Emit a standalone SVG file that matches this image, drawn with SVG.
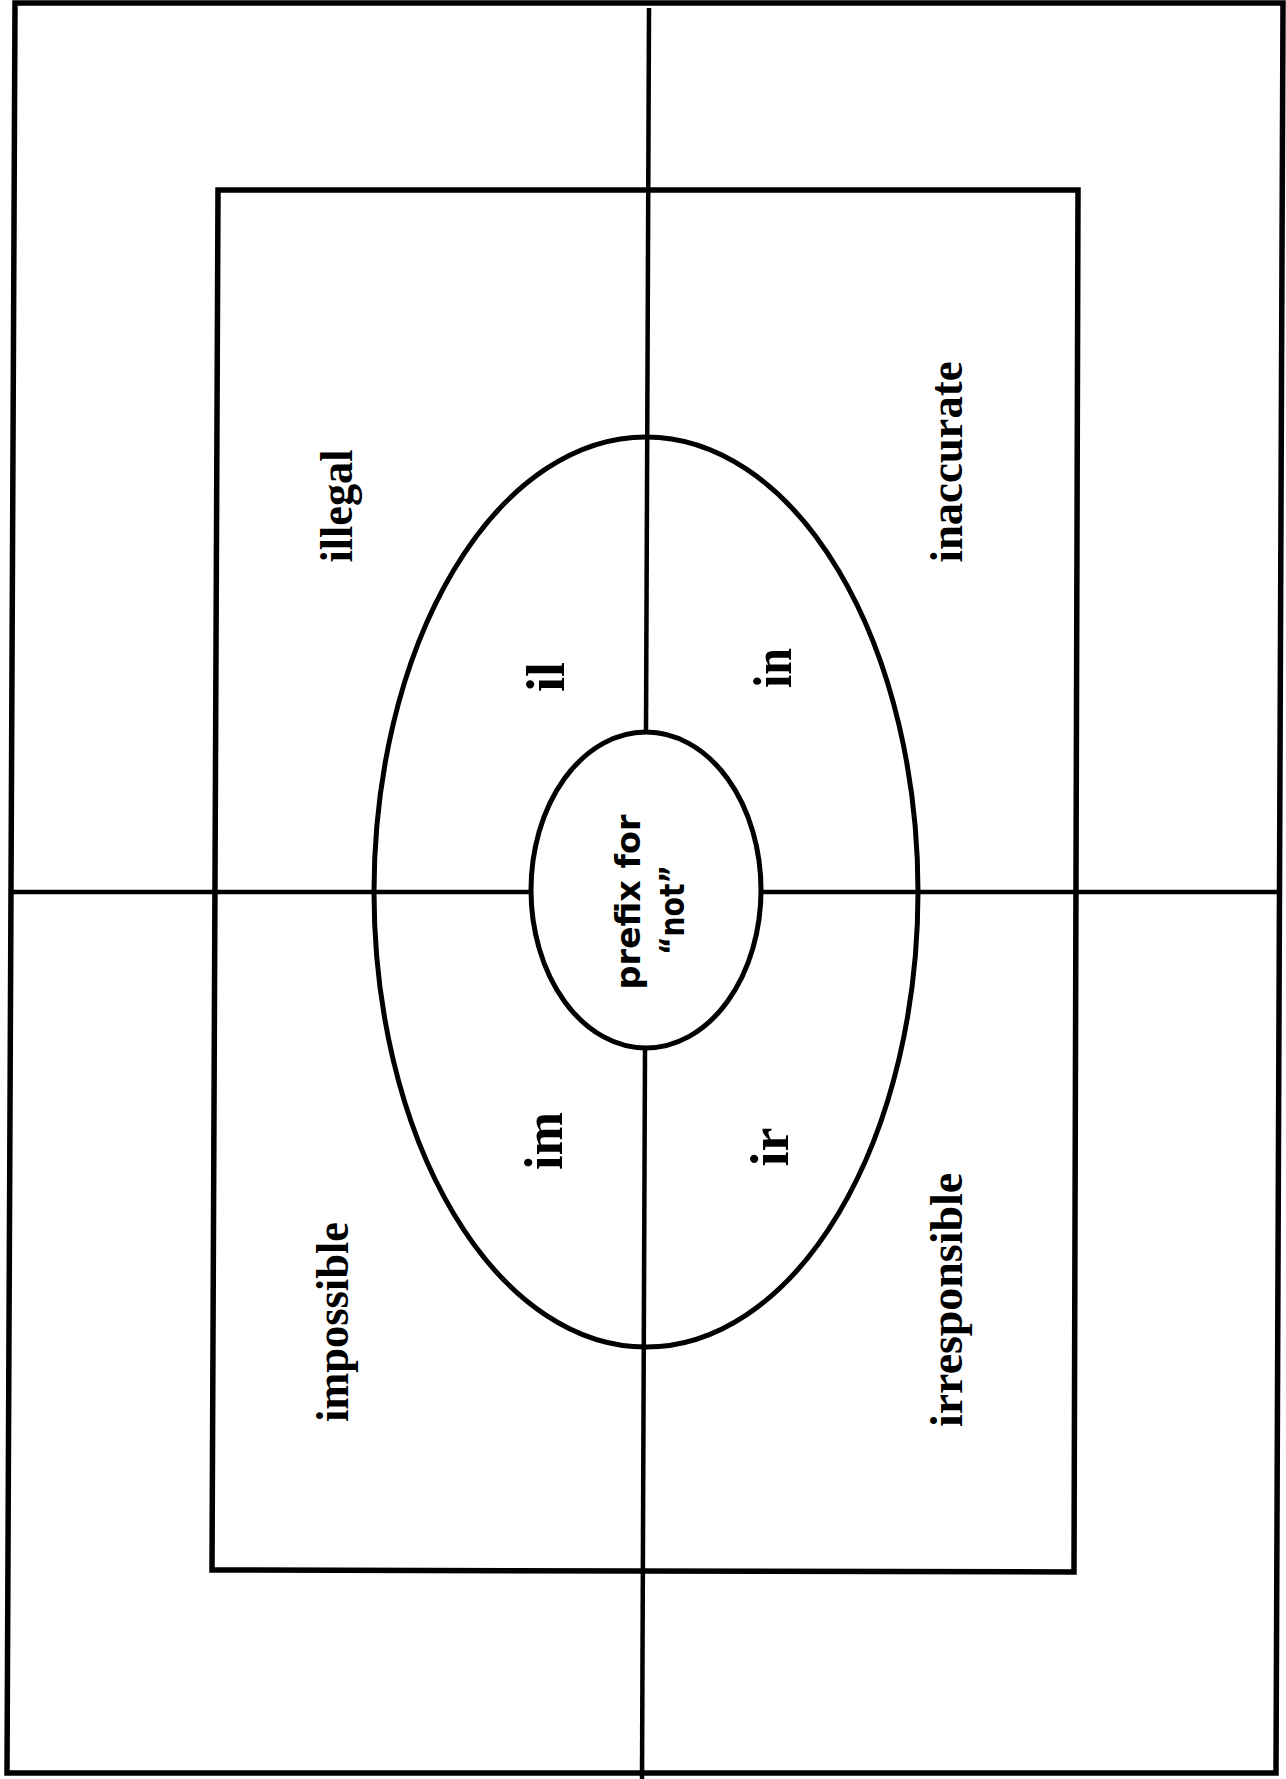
<svg xmlns="http://www.w3.org/2000/svg" width="1286" height="1779" viewBox="0 0 1286 1779">
<style>
.frame{fill:none;stroke:#000;stroke-width:5.5;stroke-linejoin:miter}
.ell{fill:none;stroke:#000;stroke-width:5}
.ln{stroke:#000;stroke-width:4.5;fill:none}
.w{font-family:"Liberation Serif","Times New Roman",serif;font-weight:bold;text-anchor:middle;fill:#000}
.c{font-family:"DejaVu Sans",Verdana,sans-serif;font-weight:bold;text-anchor:middle;fill:#000}
</style>
<rect width="1286" height="1779" fill="#fff"/>
<g id="outer-frame"><polygon class="frame" points="15,3 1283,3 1276,1773 7,1773"/></g>
<g id="inner-frame"><polygon class="frame" points="218,190 1078,190 1074,1572 212,1570"/></g>
<g id="outer-ellipse"><ellipse class="ell" cx="646" cy="892" rx="272" ry="455"/></g>
<g id="connectors">
<line class="ln" x1="649" y1="8" x2="646" y2="732"/>
<line class="ln" x1="645" y1="1048" x2="642" y2="1779"/>
<line class="ln" x1="10" y1="892" x2="532" y2="892"/>
<line class="ln" x1="761" y1="892" x2="1280" y2="892"/>
</g>
<g id="center"><ellipse class="ell" cx="646" cy="890" rx="115" ry="158"/>
<text class="c" font-size="34" transform="translate(640,902) rotate(-90)" textLength="175" lengthAdjust="spacingAndGlyphs">prefix for</text>
<text class="c" font-size="34" transform="translate(684,910) rotate(-90)" textLength="90" lengthAdjust="spacingAndGlyphs">“not”</text>
</g>
<g id="prefix-il"><text class="w" font-size="55" transform="translate(564,677) rotate(-90)" textLength="30" lengthAdjust="spacingAndGlyphs">il</text></g>
<g id="prefix-in"><text class="w" font-size="55" transform="translate(791,668) rotate(-90)" textLength="40" lengthAdjust="spacingAndGlyphs">in</text></g>
<g id="prefix-im"><text class="w" font-size="55" transform="translate(562,1141) rotate(-90)" textLength="58" lengthAdjust="spacingAndGlyphs">im</text></g>
<g id="prefix-ir"><text class="w" font-size="55" transform="translate(788,1147) rotate(-90)" textLength="39" lengthAdjust="spacingAndGlyphs">ir</text></g>
<g id="word-illegal"><text class="w" font-size="46" transform="translate(352,506) rotate(-90)" textLength="113" lengthAdjust="spacingAndGlyphs">illegal</text></g>
<g id="word-inaccurate"><text class="w" font-size="46" transform="translate(962,462) rotate(-90)" textLength="201" lengthAdjust="spacingAndGlyphs">inaccurate</text></g>
<g id="word-impossible"><text class="w" font-size="46" transform="translate(348,1322) rotate(-90)" textLength="200" lengthAdjust="spacingAndGlyphs">impossible</text></g>
<g id="word-irresponsible"><text class="w" font-size="46" transform="translate(962,1300) rotate(-90)" textLength="254" lengthAdjust="spacingAndGlyphs">irresponsible</text></g>
</svg>
